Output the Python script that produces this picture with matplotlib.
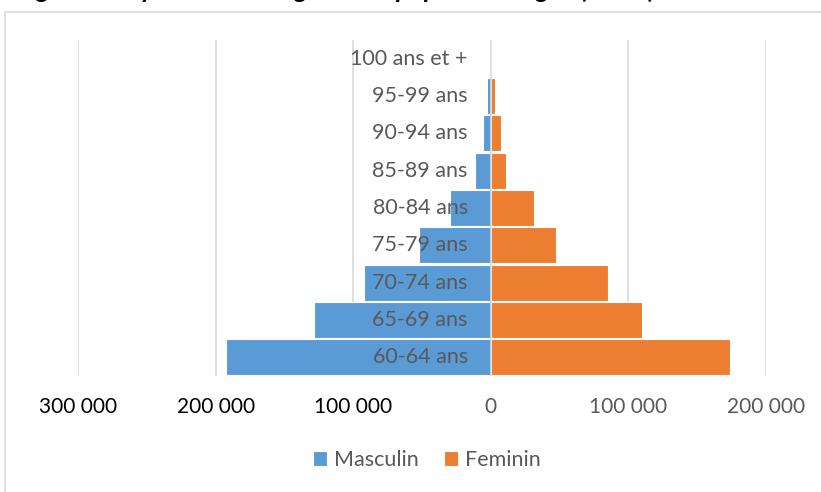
import matplotlib.pyplot as plt
from matplotlib.patches import Rectangle
from matplotlib.transforms import blended_transform_factory, offset_copy
from matplotlib.ticker import FuncFormatter

# ---------------- data ----------------
age_groups = ["60-64 ans", "65-69 ans", "70-74 ans", "75-79 ans", "80-84 ans",
              "85-89 ans", "90-94 ans", "95-99 ans", "100 ans et +"]
masculin = [192600, 128300, 91900, 51900, 30000, 11600, 5600, 2400, 700]
feminin = [174000, 110000, 85300, 47500, 31500, 11100, 7500, 3000, 1000]
x_ticks = [-300000, -200000, -100000, 0, 100000, 200000]
title = "Figure 3 : Pyramide des âges de la population âgée (2019)"

BLUE = "#5B9BD5"
ORANGE = "#ED7D31"
GREY_TXT = "#595959"
GRID = "#D9D9D9"

plt.rcParams["font.family"] = ["Lato", "DejaVu Sans"]

W, H = 821, 492
fig = plt.figure(figsize=(W / 100, H / 100), dpi=100)

# chart area border (left + top visible in the crop)
fig.patches.append(Rectangle((5 / W, -0.1), 1.2, 1 - 12 / H + 0.1, transform=fig.transFigure,
                             fill=False, edgecolor=GRID, linewidth=1.2))

# title, cut off by the top of the picture (only the descenders show)
fig.text(16 / W, 1 - 2 / H, title, fontsize=19, fontweight="bold", fontstyle="italic",
         ha="left", va="bottom", color="black")

ax = fig.add_axes([78 / W, 1 - 376 / H, (766 - 78) / W, (376 - 40) / H])
pos = list(range(len(age_groups)))
ax.barh(pos, [-v for v in masculin], height=0.97, color=BLUE, edgecolor="white",
        linewidth=0.8, label="Masculin", zorder=2)
ax.barh(pos, feminin, height=0.97, color=ORANGE, edgecolor="white",
        linewidth=0.8, label="Feminin", zorder=2)

ax.set_xlim(-300000, 200000)
ax.set_ylim(-0.5, len(age_groups) - 0.5)
ax.set_xticks(x_ticks)
ax.xaxis.set_major_formatter(FuncFormatter(lambda v, p: f"{abs(int(v)):,}".replace(",", " ")))
ax.tick_params(axis="x", length=0, pad=15, labelsize=15)
for lab, v in zip(ax.get_xticklabels(), x_ticks):
    lab.set_color("black" if v < 0 else GREY_TXT)
ax.set_yticks([])
ax.grid(axis="x", color=GRID, linewidth=1.2, zorder=0)
ax.axvline(0, color=GRID, linewidth=1.2, zorder=3)
for s in ax.spines.values():
    s.set_visible(False)

# category labels next to the axis
tr = offset_copy(blended_transform_factory(ax.transData, ax.transData), fig=fig, x=-23, y=0, units="dots")
for p, name in zip(pos, age_groups):
    ax.text(0, p, name, transform=tr, ha="right", va="center", fontsize=15.5,
            color=GREY_TXT, zorder=4)

leg = fig.legend(loc="center", bbox_to_anchor=(427 / W, 1 - 460 / H), ncol=2, frameon=False,
                 fontsize=15.5, handlelength=0.65, handleheight=0.65, handletextpad=0.3,
                 columnspacing=1.2)
for t in leg.get_texts():
    t.set_color(GREY_TXT)

fig.savefig("out.png", dpi=100)
